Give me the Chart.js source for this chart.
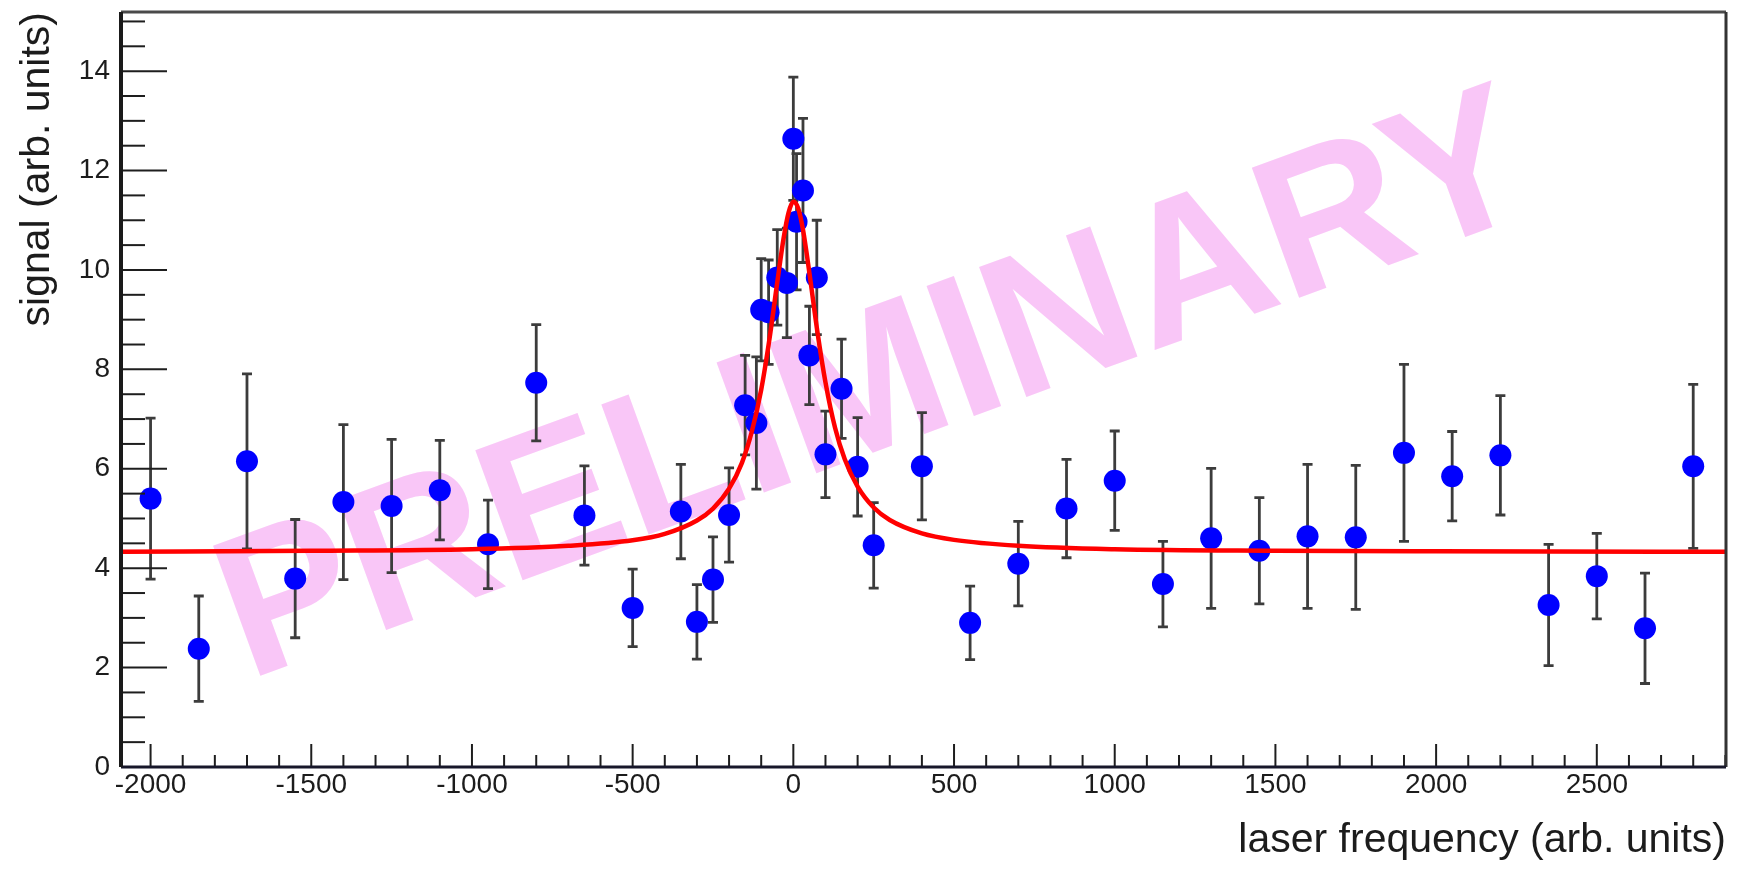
<!DOCTYPE html>
<html>
<head>
<meta charset="utf-8">
<title>signal vs laser frequency</title>
<script src="https://cdn.jsdelivr.net/npm/chart.js@4.4.1/dist/chart.umd.min.js"></script>
<style>
    html, body { margin: 0; padding: 0; background: #fff; }
    #wrap { width: 1740px; height: 869px; position: relative; }
</style>
</head>
<body>
<div id="wrap"><canvas id="scanChart"></canvas></div>
<script>
// measured points (x = laser frequency, y = signal, symmetric error)
const freq = [-2000, -1850, -1700, -1550, -1400, -1250, -1100, -950, -800, -650, -500, -350,
    -300, -250, -200, -150, -115, -100, -77, -50, -20, 0, 10, 30, 50, 73, 100, 150, 200,
    250, 400, 550, 700, 850, 1000, 1150, 1300, 1450, 1600, 1750, 1900, 2050, 2200, 2350, 2500, 2650, 2800];
const signal = [5.40, 2.38, 6.15, 3.79, 5.33, 5.25, 5.57, 4.48, 7.73, 5.06, 3.20, 5.14,
    2.92, 3.77, 5.07, 7.28, 6.92, 9.20, 9.15, 9.85, 9.74, 12.64, 10.97, 11.60, 8.28, 9.85, 6.29, 7.61, 6.04,
    4.46, 6.05, 2.90, 4.09, 5.20, 5.76, 3.68, 4.60, 4.35, 4.64, 4.62, 6.32, 5.85, 6.27, 3.26, 3.84, 2.79, 6.05];
const sigErr = [1.62, 1.06, 1.76, 1.19, 1.56, 1.34, 1.00, 0.89, 1.17, 1.00, 0.78, 0.95,
    0.75, 0.86, 0.95, 1.00, 1.33, 1.03, 1.05, 0.96, 1.10, 1.24, 1.37, 1.45, 0.99, 1.15, 0.87, 1.00, 0.99,
    0.86, 1.08, 0.74, 0.85, 0.99, 1.00, 0.86, 1.41, 1.07, 1.45, 1.45, 1.78, 0.90, 1.20, 1.22, 0.86, 1.11, 1.65];

// red fit curve
const fitFreq = [-2100, -1500, -1000, -700, -500, -400, -300, -250, -200, -160, -130, -100, -75, -50, -30, -15,
    0, 15, 30, 50, 75, 100, 130, 160, 200, 250, 300, 400, 500, 700, 1000, 1500, 2000, 2910];
const fitSignal = [4.33, 4.35, 4.38, 4.45, 4.56, 4.69, 4.96, 5.20, 5.60, 6.12, 6.73, 7.59, 8.58, 9.75, 10.65, 11.15,
    11.37, 11.24, 10.81, 9.94, 8.75, 7.74, 6.82, 6.19, 5.64, 5.22, 4.97, 4.70, 4.57, 4.45, 4.38, 4.35, 4.34, 4.33];

const xTicks = [-2000, -1500, -1000, -500, 0, 500, 1000, 1500, 2000, 2500];
const yTicks = [0, 2, 4, 6, 8, 10, 12, 14];
const xRange = [-2092, 2902];
const yRange = [0, 15.19];

const watermark = { text: 'PRELIMINARY', x: -1698, y: 1.745, angle: -20 };

const FONT = '"Liberation Sans", Arial, Helvetica, sans-serif';
const INK = '#1c1c1c';

const watermarkText = {
    id: 'watermarkText',
    beforeDatasetsDraw(chart) {
        const { ctx, scales: { x, y } } = chart;
        ctx.save();
        ctx.translate(x.getPixelForValue(watermark.x), y.getPixelForValue(watermark.y));
        ctx.rotate(watermark.angle * Math.PI / 180);
        ctx.font = 'bold 201px ' + FONT;
        ctx.fillStyle = '#f9c6f7';
        ctx.textBaseline = 'alphabetic';
        ctx.fillText(watermark.text, 0, 0);
        ctx.restore();
    }
};

const errorBars = {
    id: 'errorBars',
    beforeDatasetsDraw(chart) {
        const { ctx, scales: { x, y } } = chart;
        ctx.save();
        ctx.strokeStyle = '#3c3c3c';
        ctx.lineWidth = 2.8;
        freq.forEach((f, i) => {
            const px = x.getPixelForValue(f);
            const top = y.getPixelForValue(signal[i] + sigErr[i]);
            const bot = y.getPixelForValue(signal[i] - sigErr[i]);
            ctx.beginPath();
            ctx.moveTo(px, top); ctx.lineTo(px, bot);
            ctx.moveTo(px - 5, top); ctx.lineTo(px + 5, top);
            ctx.moveTo(px - 5, bot); ctx.lineTo(px + 5, bot);
            ctx.stroke();
        });
        ctx.restore();
    }
};

// ROOT style frame with ticks pointing inward
const rootAxes = {
    id: 'rootAxes',
    afterDatasetsDraw(chart) {
        const { ctx, chartArea: a, scales: { x, y } } = chart;
        ctx.save();
        ctx.strokeStyle = '#1e1e1e';
        ctx.lineWidth = 2;
        for (let v = Math.ceil(x.min / 100) * 100; v <= x.max; v += 100) {
            const px = x.getPixelForValue(v);
            const len = v % 500 === 0 ? 23 : 12;
            ctx.beginPath();
            ctx.moveTo(px, a.bottom);
            ctx.lineTo(px, a.bottom - len);
            ctx.stroke();
        }
        for (let v = 0; v <= y.max; v += 0.5) {
            const py = y.getPixelForValue(v);
            const len = v % 2 === 0 ? 46 : 24;
            ctx.beginPath();
            ctx.moveTo(a.left, py);
            ctx.lineTo(a.left + len, py);
            ctx.stroke();
        }
        ctx.lineWidth = 3;
        ctx.strokeStyle = '#4a4a4a';
        ctx.beginPath();
        ctx.moveTo(a.left, a.top); ctx.lineTo(a.right, a.top);
        ctx.stroke();
        ctx.strokeStyle = '#333';
        ctx.beginPath();
        ctx.moveTo(a.right, a.top); ctx.lineTo(a.right, a.bottom);
        ctx.stroke();
        ctx.strokeStyle = '#17172a';
        ctx.beginPath();
        ctx.moveTo(a.left, a.bottom); ctx.lineTo(a.right, a.bottom);
        ctx.stroke();
        ctx.lineWidth = 4;
        ctx.strokeStyle = '#1a1a1a';
        ctx.beginPath();
        ctx.moveTo(a.left, a.top); ctx.lineTo(a.left, a.bottom);
        ctx.stroke();
        ctx.restore();
    }
};

new Chart(document.getElementById('scanChart'), {
    type: 'scatter',
    data: {
        datasets: [
            {
                label: 'fit',
                type: 'line',
                data: fitFreq.map((f, i) => ({ x: f, y: fitSignal[i] })),
                borderColor: '#ff0000',
                borderWidth: 4.5,
                pointRadius: 0,
                cubicInterpolationMode: 'monotone',
                fill: false,
                order: 0
            },
            {
                label: 'signal',
                data: freq.map((f, i) => ({ x: f, y: signal[i] })),
                backgroundColor: '#0000ff',
                borderColor: '#0000ff',
                pointBorderWidth: 0,
                pointRadius: 11,
                order: 1
            }
        ]
    },
    options: {
        responsive: true,
        maintainAspectRatio: false,
        animation: false,
        layout: { padding: { top: 12, right: 14, left: 0, bottom: 0 } },
        plugins: {
            legend: { display: false },
            tooltip: { enabled: false }
        },
        scales: {
            x: {
                type: 'linear',
                min: xRange[0],
                max: xRange[1],
                grid: { display: false, drawTicks: false },
                border: { display: false },
                ticks: {
                    font: { family: FONT, size: 28 },
                    color: INK,
                    padding: 1,
                    maxRotation: 0,
                    autoSkip: false,
                    callback: (v) => String(v)
                },
                title: {
                    display: true,
                    text: 'laser frequency (arb. units)',
                    align: 'end',
                    color: INK,
                    font: { family: FONT, size: 41 },
                    padding: { top: 0, bottom: 4 }
                },
                afterBuildTicks: (scale) => { scale.ticks = xTicks.map(v => ({ value: v })); },
                afterFit: (scale) => {
                    scale.height = 102;
                    scale.paddingLeft = 0;
                    scale.paddingRight = 0;
                }
            },
            y: {
                type: 'linear',
                min: yRange[0],
                max: yRange[1],
                grid: { display: false, drawTicks: false },
                border: { display: false },
                ticks: {
                    font: { family: FONT, size: 28 },
                    color: INK,
                    padding: 11,
                    callback: (v) => String(v)
                },
                title: {
                    display: true,
                    text: 'signal (arb. units)',
                    align: 'end',
                    color: INK,
                    font: { family: FONT, size: 41 },
                    padding: { top: 13, bottom: 0 }
                },
                afterBuildTicks: (scale) => { scale.ticks = yTicks.map(v => ({ value: v })); },
                afterFit: (scale) => {
                    scale.width = 121;
                    scale.paddingTop = 0;
                    scale.paddingBottom = 0;
                }
            }
        }
    },
    plugins: [watermarkText, errorBars, rootAxes]
});
</script>
</body>
</html>
